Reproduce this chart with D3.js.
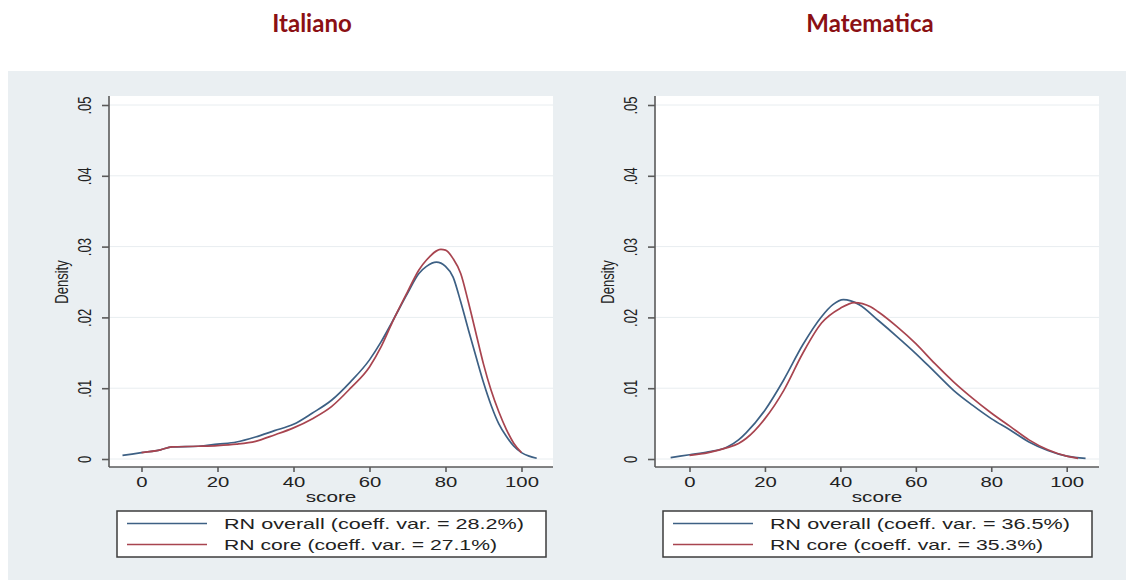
<!DOCTYPE html>
<html>
<head>
<meta charset="utf-8">
<script src="https://cdn.jsdelivr.net/npm/d3@7"></script>
<style>
  body { margin: 0; background: #fff; }
  svg { display: block; }
</style>
</head>
<body>
<div id="chart"></div>
<script>
// kernel density readings, [score, density]
const italianoOverall = [
    [-5, 0.0005], [0, 0.0009], [5, 0.0013], [8, 0.0017], [15, 0.0018], [20, 0.0021],
    [25, 0.0024], [30, 0.0031], [35, 0.0040], [40, 0.0049], [45, 0.0065], [50, 0.0083],
    [55, 0.0109], [60, 0.0140], [63, 0.0165], [66, 0.0194], [70, 0.0234], [73, 0.0262],
    [75, 0.0272], [77.6, 0.0278], [80, 0.0272], [82, 0.0257], [84, 0.0222], [86, 0.0183],
    [88, 0.0145], [90, 0.0108], [92, 0.0076], [94, 0.0050], [96, 0.0032], [98, 0.0018],
    [100, 0.0009], [102, 0.0004], [104, 0.0001]
];
const italianoCore = [
    [0, 0.0009], [5, 0.0013], [8, 0.0017], [15, 0.0018], [20, 0.0019], [25, 0.0021],
    [30, 0.0025], [35, 0.0034], [40, 0.0044], [45, 0.0057], [50, 0.0074], [55, 0.0100],
    [60, 0.0130], [63, 0.0158], [66, 0.0193], [70, 0.0236], [73, 0.0267], [75, 0.0281],
    [78.8, 0.0296], [80, 0.0295], [82, 0.0283], [84, 0.0262], [86, 0.0222], [88, 0.0178],
    [90, 0.0134], [92, 0.0097], [94, 0.0067], [96, 0.0042], [98, 0.0022], [100, 0.0009]
];
const matematicaOverall = [
    [-5, 0.0002], [0, 0.0006], [5, 0.0010], [10, 0.0017], [13, 0.0027], [15, 0.0037],
    [20, 0.0069], [25, 0.0112], [30, 0.0161], [35, 0.0201], [38, 0.0218], [40.8, 0.0225],
    [45, 0.0218], [50, 0.0196], [55, 0.0173], [60, 0.0149], [65, 0.0123], [70, 0.0097],
    [75, 0.0076], [80, 0.0057], [85, 0.0041], [90, 0.0024], [95, 0.0012], [100, 0.0004],
    [105, 0.0001]
];
const matematicaCore = [
    [0, 0.0005], [5, 0.0009], [10, 0.0016], [13, 0.0022], [15, 0.0029], [20, 0.0057],
    [25, 0.0097], [30, 0.0149], [35, 0.0192], [40, 0.0213], [43.7, 0.0221], [48, 0.0215],
    [50, 0.0208], [55, 0.0187], [60, 0.0163], [65, 0.0135], [70, 0.0109], [75, 0.0086],
    [80, 0.0065], [85, 0.0046], [90, 0.0027], [95, 0.0013], [100, 0.0004], [103, 0.0001]
];

const xTicks = [0, 20, 40, 60, 80, 100];
const yTicks = [0, 0.01, 0.02, 0.03, 0.04, 0.05];
const yTickLabels = ["0", ".01", ".02", ".03", ".04", ".05"];
const titles = ["Italiano", "Matematica"];
const legendOverall = ["RN overall (coeff. var. = 28.2%)", "RN overall (coeff. var. = 36.5%)"];
const legendCore = ["RN core (coeff. var. = 27.1%)", "RN core (coeff. var. = 35.3%)"];

const blue = "#3d6084";
const red = "#a8444f";

const svg = d3.select("#chart").append("svg")
    .attr("width", 1126)
    .attr("height", 580);

// stata background
svg.append("rect")
    .attr("x", 8).attr("y", 71)
    .attr("width", 1118).attr("height", 509)
    .attr("fill", "#eaeff2");

const panels = [
    { left: 109, right: 553, zero: 141.5, hundred: 521.5, titleX: 312, lines: [italianoOverall, italianoCore] },
    { left: 655, right: 1099, zero: 689.5, hundred: 1066.7, titleX: 870, lines: [matematicaOverall, matematicaCore] }
];

const plotTop = 96, plotBottom = 467;

panels.forEach((p, i) => {
    const x = d3.scaleLinear().domain([0, 100]).range([p.zero, p.hundred]);
    const y = d3.scaleLinear().domain([0, 0.05]).range([459, 105]);

    svg.append("text")
        .attr("x", p.titleX)
        .attr("y", 32)
        .attr("text-anchor", "middle")
        .style("font-family", "Lato")
        .style("font-weight", "bold")
        .style("font-size", "24px")
        .style("fill", "#8b1014")
        .text(titles[i]);

    svg.append("rect")
        .attr("x", p.left).attr("y", plotTop)
        .attr("width", p.right - p.left).attr("height", plotBottom - plotTop)
        .attr("fill", "#fff");

    svg.append("g")
        .selectAll("line")
        .data(yTicks)
        .enter().append("line")
        .attr("x1", p.left).attr("x2", p.right)
        .attr("y1", d => y(d)).attr("y2", d => y(d))
        .style("stroke", "#e8edf0")
        .style("stroke-width", 1);

    const line = d3.line()
        .x(d => x(d[0]))
        .y(d => y(d[1]))
        .curve(d3.curveMonotoneX);

    [blue, red].forEach((c, k) => {
        svg.append("path")
            .datum(p.lines[k])
            .attr("d", line)
            .attr("fill", "none")
            .style("stroke", c)
            .style("stroke-width", 1.7);
    });

    // y axis
    const yAxis = svg.append("g")
        .attr("transform", `translate(${p.left},0)`)
        .call(d3.axisLeft(y).tickValues(yTicks).tickSize(7).tickFormat((d, j) => yTickLabels[j]));
    yAxis.select(".domain").attr("d", `M0,${plotTop}V${plotBottom}`);
    yAxis.selectAll(".domain, line").style("stroke", "#5a5a5a").style("stroke-width", 1.6);
    yAxis.selectAll("text")
        .attr("x", 0).attr("dy", null).attr("y", 0)
        .attr("text-anchor", "middle")
        .attr("dominant-baseline", "central")
        .attr("transform", "translate(-24,0) rotate(-90) scale(1,1.35)")
        .style("font-family", "Liberation Sans")
        .style("font-size", "13px")
        .style("fill", "#222");

    // x axis
    const xAxis = svg.append("g")
        .attr("transform", `translate(0,${plotBottom})`)
        .call(d3.axisBottom(x).tickValues(xTicks).tickSize(5).tickFormat(d3.format("d")));
    xAxis.select(".domain").attr("d", `M${p.left},0H${p.right}`);
    xAxis.selectAll(".domain, line").style("stroke", "#5a5a5a").style("stroke-width", 1.6);
    xAxis.selectAll("text")
        .attr("y", 15).attr("dy", null)
        .attr("dominant-baseline", "central")
        .attr("transform", "scale(1.45,1)")
        .style("font-family", "Liberation Sans")
        .style("font-size", "14px")
        .style("fill", "#222");

    svg.append("text")
        .attr("transform", `translate(${(p.left + p.right) / 2},497) scale(1.48,1)`)
        .attr("text-anchor", "middle")
        .attr("dominant-baseline", "central")
        .style("font-family", "Liberation Sans")
        .style("font-size", "14px")
        .style("fill", "#222")
        .text("score");

    svg.append("text")
        .attr("transform", `translate(${p.left - 47},282) rotate(-90) scale(1,1.35)`)
        .attr("text-anchor", "middle")
        .attr("dominant-baseline", "central")
        .style("font-family", "Liberation Sans")
        .style("font-size", "13px")
        .style("fill", "#222")
        .text("Density");

    // legend
    const lx = p.left + 8;
    const lg = svg.append("g");
    lg.append("rect")
        .attr("x", lx).attr("y", 511)
        .attr("width", 429).attr("height", 46)
        .attr("fill", "#fff")
        .style("stroke", "#3c3c3c")
        .style("stroke-width", 1.5);
    [[legendOverall[i], blue, 523.5], [legendCore[i], red, 544.5]].forEach(([t, c, ly]) => {
        lg.append("line")
            .attr("x1", lx + 10).attr("x2", lx + 90)
            .attr("y1", ly).attr("y2", ly)
            .style("stroke", c)
            .style("stroke-width", 1.7);
        lg.append("text")
            .attr("x", lx + 107)
            .attr("y", ly)
            .attr("dominant-baseline", "central")
            .attr("textLength", t.startsWith("RN overall") ? 300 : 273)
            .attr("lengthAdjust", "spacingAndGlyphs")
            .style("font-family", "Liberation Sans")
            .style("font-size", "15px")
            .style("fill", "#222")
            .text(t);
    });
});
</script>
</body>
</html>
